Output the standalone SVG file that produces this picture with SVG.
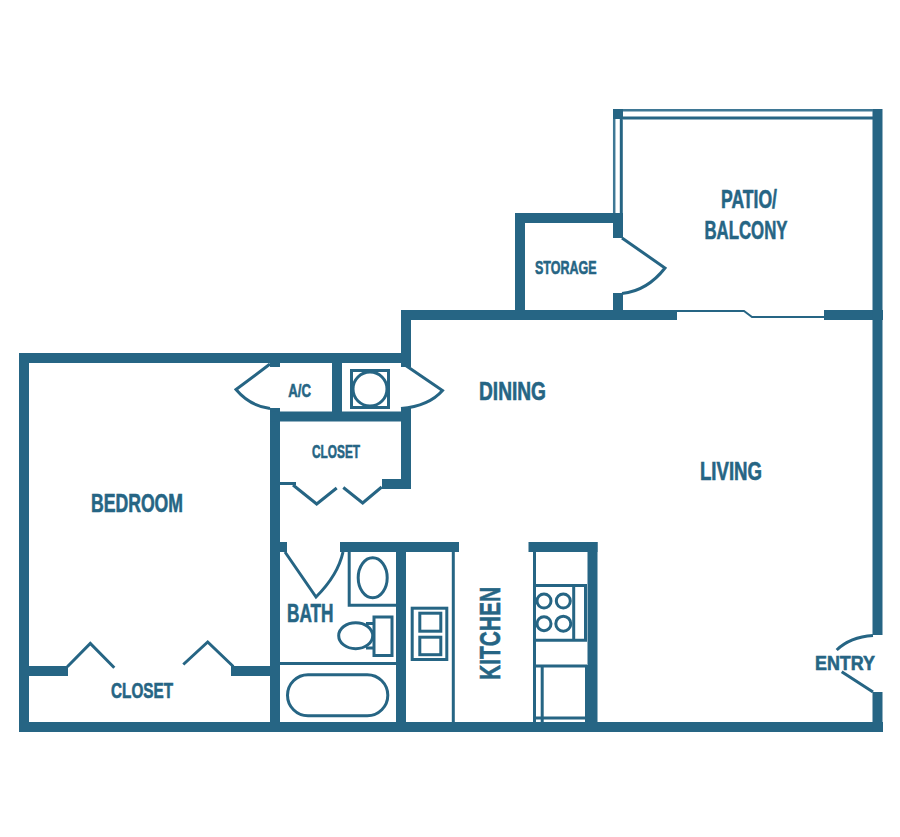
<svg xmlns="http://www.w3.org/2000/svg" width="900" height="837" viewBox="0 0 900 837">
<style>
.w{fill:#266584;stroke:none}
.l{fill:none;stroke:#266584;stroke-width:3}
.t{fill:none;stroke:#266584;stroke-width:2}
.h{fill:none;stroke:#3f7895;stroke-width:2.500}
text{fill:#266584;stroke:#266584;stroke-width:.6;font-family:"Liberation Sans Narrow","Liberation Sans",sans-serif;font-weight:700}
</style>
<rect width="900" height="837" fill="#fff"/>
<g id="walls" class="w">
<rect x="19" y="353" width="10" height="379"/>
<rect x="19" y="353" width="392" height="10"/>
<rect x="19" y="722" width="864" height="10"/>
<rect x="270" y="408" width="10" height="324"/>
<rect x="270" y="363" width="10" height="4"/>
<rect x="332" y="363" width="10" height="49"/>
<rect x="270" y="411.500" width="141" height="10"/>
<rect x="401" y="408" width="10" height="81"/>
<rect x="382" y="479" width="29" height="10"/>
<rect x="401" y="310" width="10" height="57"/>
<rect x="401" y="310" width="276" height="10"/>
<rect x="824" y="310" width="59" height="10"/>
<rect x="872.500" y="109" width="10" height="526"/>
<rect x="872.500" y="692" width="10" height="40"/>
<rect x="515" y="213" width="10" height="107"/>
<rect x="515" y="213" width="108" height="10"/>
<rect x="613" y="213" width="10" height="25"/>
<rect x="613" y="293" width="10" height="27"/>
<rect x="613" y="109" width="10" height="10"/>
<rect x="29" y="666" width="39" height="10"/>
<rect x="231" y="666" width="39" height="10"/>
<rect x="280" y="542" width="7" height="10"/>
<rect x="340" y="542" width="119" height="10"/>
<rect x="396" y="542" width="10" height="190"/>
<rect x="528.500" y="542" width="69" height="10"/>
<rect x="587.500" y="542" width="10" height="190"/>
<rect x="585" y="665" width="5" height="57"/>
<rect x="280" y="482" width="16" height="3"/>
</g>
<g id="patio-rail">
<path class="h" d="M623 110.200H873"/>
<path class="l" d="M623 118H873"/>
<path class="h" d="M614.200 119V213"/>
<path class="l" d="M621.300 119V213"/>
</g>
<g id="doors">
<path class="l" d="M622 238L665 268Q647 291 622 293.500"/>
<path class="l" d="M270 364L236 389.500Q250 406 270 408.500"/>
<path class="l" d="M405 365L442.500 390.500Q429 406 401 408.500"/>
<path class="l" d="M293 485L316.700 504L336.700 488M343.300 487.500L362.700 503L381.700 487"/>
<path class="l" d="M285 552L316 597Q338 575 343 552"/>
<path class="l" d="M67.300 666.700L90.300 643.500L114.300 667.700M183.300 664.500L207.700 642L233.300 666.500"/>
<path class="l" d="M873 635.500Q850 637 836.700 650M841.700 671.700L873 692"/>
<path class="t" d="M677 311H744L752 317H824"/>
</g>
<g id="ac-unit">
<rect class="l" x="351.500" y="370.500" width="37" height="37"/>
<circle class="l" cx="370" cy="389" r="17"/>
</g>
<g id="bath-fixtures">
<path class="l" d="M349.200 552V605.300H396"/>
<ellipse class="l" cx="372.700" cy="577.700" rx="14.500" ry="20"/>
<rect class="l" x="374" y="617" width="18" height="38.500"/>
<ellipse class="l" cx="355.700" cy="635.700" rx="17" ry="13"/>
<path class="l" d="M366 623.500H374M366 648H374"/>
<path class="l" d="M280 663.500H396"/>
<rect class="l" x="287.500" y="674.800" width="100.300" height="41" rx="20.500"/>
</g>
<g id="kitchen-fixtures">
<path class="l" d="M453.300 552V722"/>
<rect class="l" x="412.200" y="608.200" width="34.600" height="51.300"/>
<rect class="l" x="419.800" y="613.200" width="21" height="18"/>
<rect class="l" x="419.800" y="637.200" width="21" height="17.500"/>
<path class="l" d="M534.500 552V722"/>
<path class="l" d="M535 585.500H587M573.700 585.500V640M585.500 585.500V640M535 640.300H587"/>
<path class="l" d="M533 666H587M542.200 667V722M535 718H587"/>
<circle class="l" cx="544" cy="601" r="7"/>
<circle class="l" cx="563.300" cy="601" r="7"/>
<circle class="l" cx="544" cy="623.700" r="7"/>
<circle class="l" cx="563.300" cy="623.700" r="7.500"/>
</g>
<g id="labels">
<text x="721" y="207.500" font-size="26" textLength="56" lengthAdjust="spacingAndGlyphs">PATIO/</text>
<text x="704.500" y="239" font-size="26" textLength="83" lengthAdjust="spacingAndGlyphs">BALCONY</text>
<text x="535" y="273.700" font-size="19" textLength="61.500" lengthAdjust="spacingAndGlyphs">STORAGE</text>
<text x="479" y="399.500" font-size="25" textLength="67" lengthAdjust="spacingAndGlyphs">DINING</text>
<text x="700" y="479.500" font-size="25" textLength="62" lengthAdjust="spacingAndGlyphs">LIVING</text>
<text x="91" y="511.500" font-size="25" textLength="92" lengthAdjust="spacingAndGlyphs">BEDROOM</text>
<text x="288.300" y="396.700" font-size="19" textLength="22.700" lengthAdjust="spacingAndGlyphs">A/C</text>
<text x="312" y="457.500" font-size="18.500" textLength="48" lengthAdjust="spacingAndGlyphs">CLOSET</text>
<text x="287" y="622" font-size="25" textLength="46.500" lengthAdjust="spacingAndGlyphs">BATH</text>
<text x="111" y="697.500" font-size="22" textLength="62" lengthAdjust="spacingAndGlyphs">CLOSET</text>
<text x="815" y="669.500" font-size="21" textLength="60" lengthAdjust="spacingAndGlyphs">ENTRY</text>
<text transform="translate(500 680) rotate(-90)" font-size="29" textLength="93" lengthAdjust="spacingAndGlyphs">KITCHEN</text>
</g>
</svg>
